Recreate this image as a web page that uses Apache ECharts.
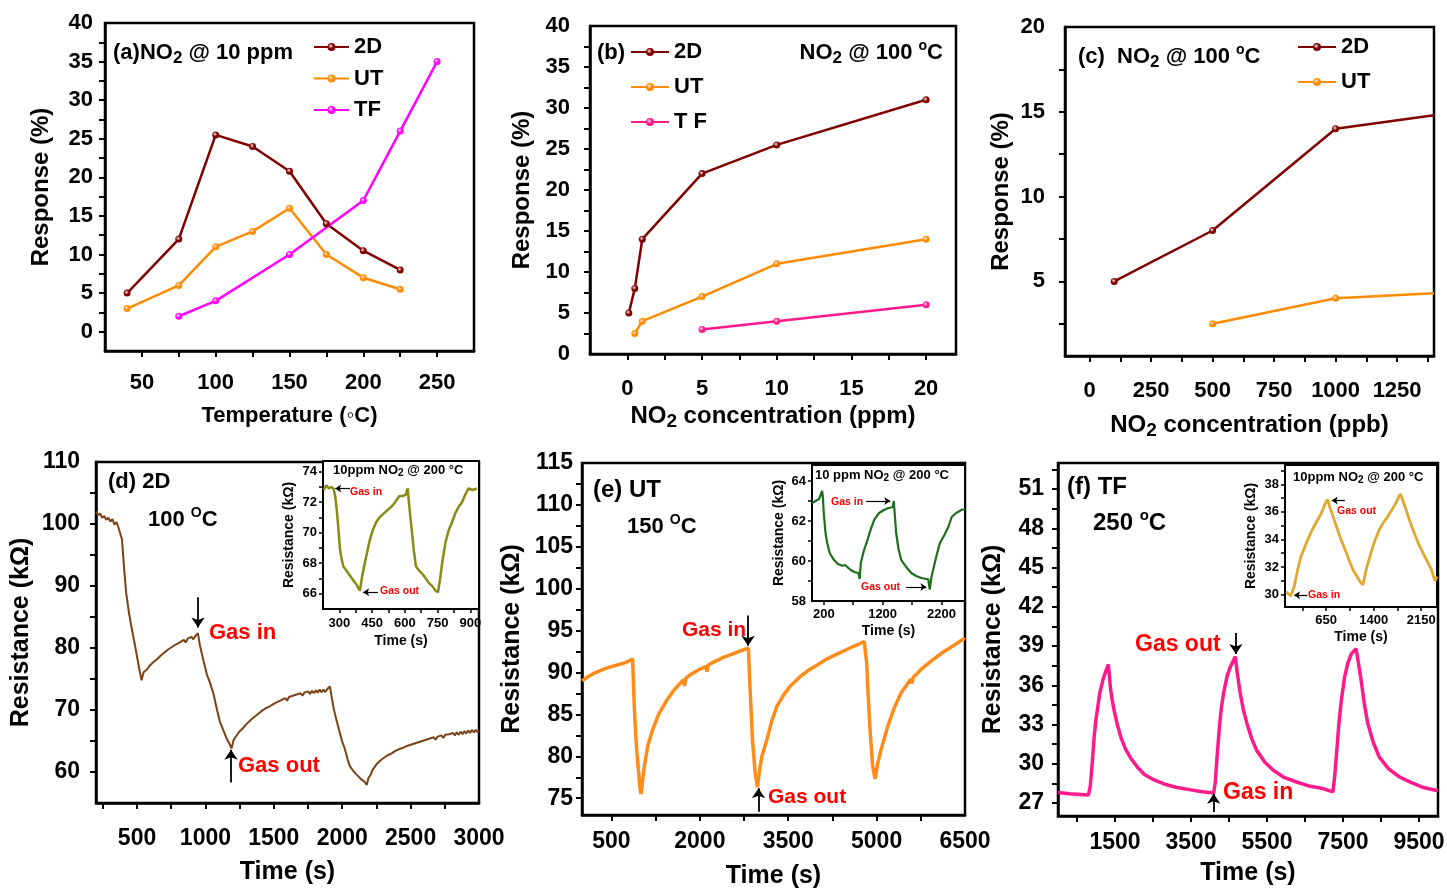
<!DOCTYPE html>
<html>
<head>
<meta charset="utf-8">
<title>NO2 response and resistance transients</title>
<style>
  html, body { margin: 0; padding: 0; background: #fff; }
  #main { width: 1447px; height: 890px; }
</style>
<script src="https://cdn.jsdelivr.net/npm/echarts@6.0.0/dist/echarts.min.js"></script>
</head>
<body>
<div id="main"></div>
<script>
// ---------- values ----------
// (a) response vs operating temperature, 10 ppm NO2
var tempA  = [40, 75, 100, 125, 150, 175, 200, 225];
var a2D    = [5, 12, 25.5, 24, 20.8, 14, 10.5, 8];
var aUT    = [3, 6, 11, 13, 16, 10, 7, 5.5];
var tempTF = [75, 100, 150, 200, 225, 250];
var aTF    = [2, 4, 10, 17, 26, 35];

// (b) response vs concentration (ppm) @ 100 C
var ppm2D = [0.1, 0.5, 1, 5, 10, 20];
var b2D   = [5, 8, 14, 22, 25.5, 31];
var ppmUT = [0.5, 1, 5, 10, 20];
var bUT   = [2.5, 4, 7, 11, 14];
var ppmTF = [5, 10, 20];
var bTF   = [3, 4, 6];

// (c) response vs concentration (ppb) @ 100 C (last value is where the line leaves the frame)
var ppb2D = [100, 500, 1000, 1400];
var c2D   = [5, 8, 14, 14.8];
var ppbUT = [500, 1000, 1400];
var cUT   = [2.5, 4, 4.3];

// (d) 2D film @ 100 C, [time s, resistance kOhm]
var dTrace = [[200,102.0],[215,101.4],[230,101.7],[245,101.0],[260,101.3],[275,100.7],[290,101.0],[305,100.4],[320,100.8],[335,99.9],[350,100.3],[362,99.6],[375,99.3],
  [390,97.5],[405,93.0],[420,89.0],[440,85.8],[460,83.3],[480,81.0],[500,78.6],[515,76.8],[533,74.8],
  [548,76.1],[562,75.8],[576,76.6],[590,77.1],[604,76.8],[618,77.7],[632,77.5],[646,78.2],[660,77.9],[674,78.8],[688,78.6],[702,79.3],[716,79.0],[730,79.8],[744,79.5],[758,80.2],[772,80.0],[786,80.6],[800,80.3],[814,80.9],[828,80.6],[842,81.3],[856,80.9],[870,81.5],[884,81.2],[898,81.8],[912,81.4],[926,81.9],[938,81.6],[945,82.4],
  [960,80.4],[985,78.0],[1010,75.8],[1035,74.3],[1060,72.5],[1085,70.0],[1106,68.1],[1130,66.8],[1155,65.4],[1175,64.6],[1191,63.8],
  [1205,65.1],[1219,65.6],[1233,65.5],[1247,66.5],[1261,66.3],[1275,67.1],[1289,67.0],[1303,67.8],[1317,67.5],[1331,68.4],[1345,68.2],[1359,68.9],[1373,68.7],[1387,69.4],[1401,69.1],[1415,69.9],[1429,69.6],[1443,70.3],[1457,70.0],[1471,70.6],[1485,70.4],[1499,71.0],[1513,70.7],[1527,71.3],[1541,71.0],[1555,71.6],[1569,71.3],[1583,71.9],[1597,71.5],[1611,72.1],[1625,71.8],[1639,72.3],[1653,72.0],[1667,72.5],[1681,72.2],[1695,72.7],[1709,72.3],[1723,72.8],[1737,72.5],[1751,73.0],[1765,72.6],[1779,73.1],[1793,72.7],[1807,73.2],[1821,72.8],[1835,73.3],[1849,72.9],[1863,73.3],[1877,72.9],[1891,73.4],[1910,73.8],
  [1925,71.8],[1940,70.0],[1960,68.2],[1983,66.3],[2000,64.9],[2021,63.6],[2040,62.0],[2057,60.9],[2080,60.2],[2100,59.7],[2118,59.3],[2140,58.8],[2160,58.5],[2179,57.9],
  [2193,59.1],[2207,59.5],[2221,60.3],[2235,60.6],[2249,61.2],[2263,61.1],[2277,61.8],[2291,61.6],[2305,62.3],[2319,62.1],[2333,62.7],[2347,62.5],[2361,63.0],[2375,62.8],[2389,63.4],[2403,63.1],[2417,63.7],[2431,63.4],[2445,63.9],[2459,63.6],[2473,64.2],[2487,63.9],[2501,64.4],[2515,64.1],[2529,64.6],[2543,64.3],[2557,64.8],[2571,64.5],[2585,65.0],[2599,64.7],[2613,65.2],[2627,64.9],[2641,65.4],[2655,65.1],[2669,65.6],[2683,65.2],[2697,65.7],[2711,65.4],[2725,65.9],[2739,65.5],[2753,66.0],[2767,65.7],[2781,66.1],[2795,65.8],[2809,66.3],[2823,65.9],[2837,66.4],[2851,66.0],[2865,66.5],[2879,66.1],[2893,66.6],[2907,66.2],[2921,66.7],[2935,66.3],[2949,66.8],[2963,66.4],[2977,66.8],[2991,66.4],[3000,66.6]];

// (e) UT film @ 150 C
var eTrace = [[0,89.0],[100,89.5],[200,89.9],[300,90.2],[400,90.5],[500,90.7],[600,90.9],[700,91.1],[800,91.4],[858,91.6],
  [872,89.0],[887,86.0],[916,82.0],[940,79.8],[961,78.1],[985,76.2],[1002,75.5],
  [1030,77.2],[1058,78.8],[1115,81.2],[1200,83.2],[1300,85.0],[1430,86.6],[1550,87.8],[1650,88.6],[1720,89.1],[1740,88.4],[1760,89.3],[1850,89.8],[2000,90.4],[2100,90.7],[2120,90.1],[2140,90.9],[2250,91.3],[2400,91.8],[2550,92.2],[2700,92.6],[2824,92.9],
  [2838,90.5],[2853,88.0],[2893,82.0],[2938,78.1],[2978,76.3],
  [3010,78.2],[3053,80.0],[3138,82.0],[3220,84.2],[3309,86.0],[3420,87.3],[3537,88.4],[3700,89.5],[3850,90.3],[3993,90.9],[4150,91.6],[4300,92.1],[4450,92.6],[4600,93.1],[4700,93.4],[4790,93.7],[4819,93.8],
  [4833,91.0],[4848,88.4],[4892,82.8],[4933,78.85],[4973,77.3],
  [5020,79.2],[5075,80.8],[5190,83.6],[5300,85.8],[5417,87.6],[5580,89.2],[5600,88.7],[5620,89.4],[5759,90.4],[5930,91.4],[6101,92.3],[6300,93.2],[6472,94.0],[6500,93.9]];

// (f) TF film @ 250 C
var fTrace = [[0,27.8],[300,27.7],[600,27.65],[800,27.6],[850,28.3],[900,30.0],[950,32.0],[1000,33.4],[1050,34.4],[1100,35.4],[1180,36.4],[1260,37.1],[1326,37.6],
  [1380,35.8],[1430,34.8],[1483,34.0],[1560,33.0],[1657,32.0],[1780,31.1],[1919,30.4],[2100,29.7],[2267,29.2],[2500,28.8],[2790,28.45],[3100,28.2],[3488,28.0],[3800,27.85],[4097,27.76],
  [4140,28.6],[4185,30.5],[4250,32.9],[4300,34.3],[4358,35.4],[4450,36.7],[4533,37.4],[4600,37.8],[4664,38.2],
  [4720,36.9],[4795,35.4],[4880,34.1],[4970,33.1],[5100,31.9],[5231,31.0],[5450,30.1],[5666,29.5],[5950,28.95],[6277,28.6],[6600,28.3],[6973,28.1],[7234,27.85],
  [7280,29.0],[7323,30.5],[7390,33.0],[7454,34.8],[7540,36.6],[7626,37.7],[7720,38.4],[7845,38.8],
  [7900,37.8],[7976,36.4],[8060,34.6],[8150,33.1],[8300,31.6],[8455,30.5],[8700,29.6],[8978,29.0],[9300,28.55],[9587,28.2],[9937,27.97],[10000,27.95]];

// insets: 10 ppm NO2 @ 200 C
var dInset = [[228,72.8],[240,73.1],[252,72.9],[262,73.0],[273,72.9],[281,72.4],[288,71.5],[296,70.2],[303,68.9],[310,68.3],[318,67.8],[333,67.5],[348,67.2],[363,66.9],[378,66.6],[394,66.2],
  [405,67.2],[415,67.9],[424,68.5],[439,69.5],[454,70.2],[469,70.7],[484,71.0],[499,71.2],[514,71.4],[530,71.6],[545,71.8],[560,72.1],[575,72.4],[590,72.4],[605,72.5],[613,72.9],
  [620,71.8],[628,70.7],[640,69.0],[651,67.8],[666,67.5],[681,67.3],[696,67.0],[711,66.7],[726,66.5],[741,66.2],[752,66.1],
  [762,67.0],[771,68.0],[787,69.4],[802,70.2],[817,70.7],[832,71.3],[847,71.7],[862,72.0],[877,72.5],[892,72.9],[910,72.8],[930,72.9]];
var eInset = [[0,62.9],[60,63.0],[120,63.1],[172,63.5],[185,63.2],[200,62.4],[230,61.4],[258,60.9],[300,60.4],[372,60.06],[440,59.85],[516,59.76],[560,59.8],[600,59.7],[658,59.55],[720,59.45],[790,59.4],[810,59.1],
  [829,59.9],[880,60.5],[944,61.07],[1000,61.6],[1058,62.07],[1140,62.4],[1229,62.56],[1300,62.65],[1373,62.7],[1390,63.0],
  [1410,62.2],[1430,61.4],[1470,60.6],[1516,60.06],[1600,59.7],[1687,59.4],[1770,59.25],[1859,59.15],[1940,59.1],[1974,59.1],[2001,58.57],
  [2030,59.2],[2059,59.56],[2110,60.2],[2173,60.9],[2250,61.3],[2317,61.7],[2373,62.2],[2450,62.4],[2545,62.56],[2600,62.6]];
var fInset = [[20,30.2],[92,29.9],[143,30.55],[200,31.8],[247,32.7],[300,33.3],[351,33.9],[400,34.4],[453,34.9],[500,35.3],[557,35.75],[600,36.2],[634,36.6],[670,36.9],
  [710,36.3],[763,35.6],[815,34.9],[867,34.2],[920,33.6],[971,33.0],[1020,32.4],[1073,31.8],[1125,31.4],[1177,31.0],[1229,30.7],
  [1255,31.2],[1281,31.8],[1330,32.6],[1384,33.45],[1435,34.1],[1488,34.7],[1550,35.2],[1616,35.6],[1680,36.1],[1746,36.6],[1800,37.1],[1824,37.3],[1850,37.4],
  [1902,36.3],[1950,35.6],[2004,34.9],[2055,34.3],[2107,33.7],[2160,33.2],[2212,32.7],[2260,32.3],[2314,31.8],[2367,31.0],[2400,31.3]];

// gas in / gas out arrows, [x1, y1, x2, y2] in data units
var dArrows  = [[946, 88.2, 946, 83.3], [1187, 58.3, 1187, 63.6]];
var eArrows  = [[2819, 96.8, 2819, 93.2], [2995, 73.4, 2995, 76.2]];
var fArrows  = [[4682, 40.0, 4682, 38.4], [4097, 26.3, 4097, 27.7]];
var diArrows = [[349, 72.9, 281, 72.9], [477, 66.1, 409, 66.1]];
var eiArrows = [[920, 63.0, 1330, 63.0], [1600, 58.7, 1944, 58.7]];
var fiArrows = [[945, 36.83, 738, 36.83], [351, 29.95, 143, 29.95]];

// tick labels and tick marks
var aXLabels = [50, 100, 150, 200, 250];
var aXTicks  = [50, 75, 100, 125, 150, 175, 200, 225, 250];
var aYLabels = [0, 5, 10, 15, 20, 25, 30, 35, 40];
var aYTicks  = [0, 2.5, 5, 7.5, 10, 12.5, 15, 17.5, 20, 22.5, 25, 27.5, 30, 32.5, 35, 37.5];
var bXLabels = [0, 5, 10, 15, 20];
var bXTicks  = [0, 2.5, 5, 7.5, 10, 12.5, 15, 17.5, 20];
var bYLabels = [0, 5, 10, 15, 20, 25, 30, 35, 40];
var bYTicks  = [2.5, 5, 7.5, 10, 12.5, 15, 17.5, 20, 22.5, 25, 27.5, 30, 32.5, 35, 37.5];
var cXLabels = [0, 250, 500, 750, 1000, 1250];
var cXTicks  = [0, 125, 250, 375, 500, 625, 750, 875, 1000, 1125, 1250, 1375];
var cYLabels = [5, 10, 15, 20];
var cYTicks  = [2.5, 5, 7.5, 10, 12.5, 15, 17.5];
var dXLabels = [500, 1000, 1500, 2000, 2500, 3000];
var dXTicks  = [250, 500, 750, 1000, 1250, 1500, 1750, 2000, 2250, 2500, 2750];
var dYLabels = [60, 70, 80, 90, 100, 110];
var dYTicks  = [60, 65, 70, 75, 80, 85, 90, 95, 100, 105];
var eXLabels = [500, 2000, 3500, 5000, 6500];
var eXTicks  = [500, 1250, 2000, 2750, 3500, 4250, 5000, 5750];
var eYLabels = [75, 80, 85, 90, 95, 100, 105, 110, 115];
var eYTicks  = [75, 77.5, 80, 82.5, 85, 87.5, 90, 92.5, 95, 97.5, 100, 102.5, 105, 107.5, 110, 112.5];
var fXLabels = [1500, 3500, 5500, 7500, 9500];
var fXTicks  = [500, 1500, 2500, 3500, 4500, 5500, 6500, 7500, 8500, 9500];
var fYLabels = [27, 30, 33, 36, 39, 42, 45, 48, 51];
var fYTicks  = [27, 28.5, 30, 31.5, 33, 34.5, 36, 37.5, 39, 40.5, 42, 43.5, 45, 46.5, 48, 49.5, 51, 52.5];
var diXLabels = [300, 450, 600, 750, 900];
var diXTicks  = [300, 375, 450, 525, 600, 675, 750, 825, 900];
var diYLabels = [66, 68, 70, 72, 74];
var diYTicks  = [66, 67, 68, 69, 70, 71, 72, 73, 74];
var eiXLabels = [200, 1200, 2200];
var eiXTicks  = [200, 700, 1200, 1700, 2200];
var eiYLabels = [58, 60, 62, 64];
var eiYTicks  = [59, 60, 61, 62, 63, 64];
var fiXLabels = [650, 1400, 2150];
var fiXTicks  = [275, 650, 1025, 1400, 1775, 2150];
var fiYLabels = [30, 32, 34, 36, 38];
var fiYTicks  = [30, 31, 32, 33, 34, 35, 36, 37, 38, 39];

// ---------- styling ----------
var FONT = '"Liberation Sans", Arial, Helvetica, sans-serif';
var RED = '#ff0000';
var C2D = '#800000', CUT = '#ff8c00', CTFa = '#ff00ff', CTF = '#ff1a8c';
var CD = '#7b4216', CE = '#ff8c1a', CF = '#ff1a8c';
var CDI = '#8a8a14', CEI = '#1e6e1e', CFI = '#e0a830';

function zip(xs, ys) {
  return xs.map(function (x, i) { return [x, ys[i]]; });
}

function subRich(size) {
  return {
    n: { fontSize: size, fontWeight: 'bold', fontFamily: FONT, color: '#000', lineHeight: size },
    s: { fontSize: Math.round(size * 0.78), fontWeight: 'bold', fontFamily: FONT, color: '#000',
         lineHeight: Math.round(size * 0.78), padding: [Math.round(size * 0.45), 0, 0, 0] }
  };
}

function grid(l, t, w, h, bw, bg) {
  return { left: l, top: t, width: w, height: h, show: true, borderColor: '#000', borderWidth: bw,
           backgroundColor: bg || 'transparent', containLabel: false, outerBoundsMode: 'none' };
}

function plain(v) { return String(v); }

function axis(gi, min, max, labels, ticks, o) {
  return {
    type: 'value', gridIndex: gi, min: min, max: max,
    name: o.name || '', nameLocation: 'middle', nameGap: o.gap,
    nameTextStyle: { fontFamily: FONT, fontWeight: 'bold', fontSize: o.nsize, color: '#000', rich: o.rich },
    axisLine: { show: true, onZero: false, lineStyle: { color: '#000', width: o.lw } },
    axisTick: { show: true, inside: false, length: o.tl, lineStyle: { color: '#000', width: o.lw - 0.5 }, customValues: ticks },
    axisLabel: { show: true, margin: o.margin, fontFamily: FONT, fontWeight: 'bold', fontSize: o.size, color: '#000',
                 customValues: labels, formatter: plain },
    splitLine: { show: false }
  };
}

function ball(c) {
  return { type: 'radial', x: 0.4, y: 0.38, r: 0.6,
           colorStops: [{ offset: 0, color: '#ffe8e0' }, { offset: 0.55, color: c }, { offset: 1, color: c }] };
}

function dots(name, idx, data, color, edge) {
  var pts = data.slice();
  if (edge) {
    var last = pts.pop();
    pts.push({ value: last, symbol: 'none' });
  }
  return { name: name, type: 'line', xAxisIndex: idx, yAxisIndex: idx, data: pts,
           symbol: 'circle', symbolSize: 7, color: color,
           lineStyle: { width: 2.5, color: color }, itemStyle: { color: ball(color) }, z: 3 };
}

function trace(name, idx, data, color, width, arrows, head) {
  return { name: name, type: 'line', xAxisIndex: idx, yAxisIndex: idx, data: data,
           symbol: 'none', color: color, lineStyle: { width: width, color: color }, z: 3,
           markLine: { silent: true, animation: false, symbol: ['none', 'arrow'], symbolSize: head || 10,
                       lineStyle: { color: '#000', width: head ? 1.2 : 1.8, type: 'solid' }, label: { show: false },
                       data: arrows.map(function (a) { return [{ coord: [a[0], a[1]] }, { coord: [a[2], a[3]] }]; }) } };
}

function label(x, y, str, size, color, align) {
  var r = {
    n: { fontSize: size, fontWeight: 'bold', fontFamily: FONT, fill: color, lineHeight: size },
    s: { fontSize: Math.round(size * 0.78), fontWeight: 'bold', fontFamily: FONT, fill: color,
         lineHeight: Math.round(size * 0.78), padding: [Math.round(size * 0.45), 0, 0, 0] },
    u: { fontSize: Math.round(size * 0.62), fontWeight: 'bold', fontFamily: FONT, fill: color,
         lineHeight: Math.round(size * 0.62), padding: [0, 0, Math.round(size * 0.6), 0] }
  };
  return { type: 'text', x: x, y: y, silent: true, z: 100,
           style: { text: str, rich: r, fontSize: size, fontWeight: 'bold', fontFamily: FONT, fill: color,
                    textAlign: align || 'left', textVerticalAlign: 'middle' } };
}

var TOP = { lw: 2.5, tl: 6, size: 22 };
var BOT = { lw: 2.5, tl: 6, size: 23 };
var INS = { lw: 2, tl: 4, size: 13 };
function st(base, extra) { return Object.assign({}, base, extra); }

var richName = subRich(24);
var LEG = { fontFamily: FONT, fontWeight: 'bold', fontSize: 22, color: '#000' };

var option = {
  animation: false,
  backgroundColor: '#fff',
  textStyle: { fontFamily: FONT },
  grid: [
    grid(105, 23, 369, 328, 2.5),
    grid(590, 26, 366, 328, 2.5),
    grid(1065, 27, 369, 329, 2.5),
    grid(96, 462, 383, 341, 2.5),
    grid(582, 463, 383, 352, 2.5),
    grid(1058, 463, 380, 353, 2.5),
    grid(323, 461, 156, 148, 2, '#fff'),
    grid(812, 465, 153, 136, 2, '#fff'),
    grid(1285, 465, 152, 142, 2, '#fff')
  ],
  xAxis: [
    axis(0, 25, 275, aXLabels, aXTicks, st(TOP, { margin: 21, name: 'Temperature (◦C)', gap: 54, nsize: 22 })),
    axis(1, -2.5, 22, bXLabels, bXTicks, st(TOP, { margin: 24, name: '{n|NO}{s|2}{n| concentration (ppm)}', gap: 50, nsize: 24, rich: richName })),
    axis(2, -100, 1400, cXLabels, cXTicks, st(TOP, { margin: 24, name: '{n|NO}{s|2}{n| concentration (ppb)}', gap: 57, nsize: 24, rich: richName })),
    axis(3, 200, 3000, dXLabels, dXTicks, st(BOT, { margin: 24, name: 'Time (s)', gap: 57, nsize: 25 })),
    axis(4, 0, 6500, eXLabels, eXTicks, st(BOT, { margin: 15, name: 'Time (s)', gap: 49, nsize: 25 })),
    axis(5, 0, 10000, fXLabels, fXTicks, st(BOT, { margin: 15, name: 'Time (s)', gap: 45, nsize: 25 })),
    axis(6, 225, 940, diXLabels, diXTicks, st(INS, { margin: 8, name: 'Time (s)', gap: 25, nsize: 14 })),
    axis(7, 0, 2600, eiXLabels, eiXTicks, st(INS, { margin: 7, name: 'Time (s)', gap: 23, nsize: 14 })),
    axis(8, 0, 2400, fiXLabels, fiXTicks, st(INS, { margin: 7, name: 'Time (s)', gap: 23, nsize: 14 }))
  ],
  yAxis: [
    axis(0, -2.5, 40, aYLabels, aYTicks, st(TOP, { margin: 12, name: 'Response (%)', gap: 52, nsize: 24 })),
    axis(1, 0, 40, bYLabels, bYTicks, st(TOP, { margin: 20, name: 'Response (%)', gap: 56, nsize: 24 })),
    axis(2, 0.6, 20, cYLabels, cYTicks, st(TOP, { margin: 20, name: 'Response (%)', gap: 52, nsize: 24 })),
    axis(3, 55, 110, dYLabels, dYTicks, st(BOT, { margin: 16, name: 'Resistance (kΩ)', gap: 62, nsize: 25 })),
    axis(4, 73, 115, eYLabels, eYTicks, st(BOT, { margin: 9, name: 'Resistance (kΩ)', gap: 57, nsize: 25 })),
    axis(5, 26, 53, fYLabels, fYTicks, st(BOT, { margin: 14, name: 'Resistance (kΩ)', gap: 52, nsize: 25 })),
    axis(6, 65, 74.7, diYLabels, diYTicks, st(INS, { margin: 6, name: 'Resistance (kΩ)', gap: 27, nsize: 14 })),
    axis(7, 58, 64.8, eiYLabels, eiYTicks, st(INS, { margin: 6, name: 'Resistance (kΩ)', gap: 26, nsize: 14 })),
    axis(8, 29.1, 39.4, fiYLabels, fiYTicks, st(INS, { margin: 6, name: 'Resistance (kΩ)', gap: 27, nsize: 14 }))
  ],
  legend: [
    { data: ['2D', 'UT', 'TF'], orient: 'vertical', left: 313, top: 36, padding: 0, itemWidth: 35, itemHeight: 10, itemGap: 9.5, textStyle: LEG, selectedMode: false },
    { data: ['2D', 'UT', 'T F'], orient: 'vertical', left: 630, top: 41, padding: 0, itemWidth: 38, itemHeight: 10, itemGap: 13, textStyle: LEG, selectedMode: false },
    { data: ['2D', 'UT'], orient: 'vertical', left: 1297, top: 36, padding: 0, itemWidth: 38, itemHeight: 10, itemGap: 13, textStyle: LEG, selectedMode: false }
  ],
  series: [
    dots('2D', 0, zip(tempA, a2D), C2D),
    dots('UT', 0, zip(tempA, aUT), CUT),
    dots('TF', 0, zip(tempTF, aTF), CTFa),
    dots('2D', 1, zip(ppm2D, b2D), C2D),
    dots('UT', 1, zip(ppmUT, bUT), CUT),
    dots('T F', 1, zip(ppmTF, bTF), CTF),
    dots('2D', 2, zip(ppb2D, c2D), C2D, true),
    dots('UT', 2, zip(ppbUT, cUT), CUT, true),
    trace('d 2D', 3, dTrace, CD, 2, dArrows),
    trace('e UT', 4, eTrace, CE, 3.5, eArrows),
    trace('f TF', 5, fTrace, CF, 3.5, fArrows),
    trace('d inset', 6, dInset, CDI, 2.5, diArrows, 6),
    trace('e inset', 7, eInset, CEI, 2.2, eiArrows, 6),
    trace('f inset', 8, fInset, CFI, 2.8, fiArrows, 6)
  ],
  graphic: [
    label(113, 53, '{n|(a)NO}{s|2}{n| @ 10 ppm}', 22, '#000'),
    label(597, 53, '{n|(b)}', 22, '#000'),
    label(943, 53, '{n|NO}{s|2}{n| @ 100 }{u|o}{n|C}', 22, '#000', 'right'),
    label(1078, 57, '{n|(c)  NO}{s|2}{n| @ 100 }{u|o}{n|C}', 22, '#000'),
    label(108, 482, '{n|(d) 2D}', 22, '#000'),
    label(148, 520, '{n|100 }{u|O}{n|C}', 22, '#000'),
    label(209, 633, '{n|Gas in}', 22, RED),
    label(238, 766, '{n|Gas out}', 22, RED),
    label(593, 490, '{n|(e) UT}', 24, '#000'),
    label(627, 527, '{n|150 }{u|O}{n|C}', 22, '#000'),
    label(682, 630, '{n|Gas in}', 21, RED),
    label(768, 797, '{n|Gas out}', 21, RED),
    label(1067, 487, '{n|(f) TF}', 24, '#000'),
    label(1093, 523, '{n|250 }{u|o}{n|C}', 24, '#000'),
    label(1135, 645, '{n|Gas out}', 23, RED),
    label(1223, 793, '{n|Gas in}', 23, RED),
    label(333, 470, '{n|10ppm NO}{s|2}{n| @ 200 °C}', 13, '#000'),
    label(815, 475, '{n|10 ppm NO}{s|2}{n| @ 200 °C}', 13, '#000'),
    label(1293, 477, '{n|10ppm NO}{s|2}{n| @ 200 °C}', 13, '#000'),
    label(350, 492, '{n|Gas in}', 10.5, RED),
    label(380, 591, '{n|Gas out}', 10.5, RED),
    label(831, 502, '{n|Gas in}', 10.5, RED),
    label(861, 587, '{n|Gas out}', 10.5, RED),
    label(1337, 511, '{n|Gas out}', 10.5, RED),
    label(1308, 595, '{n|Gas in}', 10.5, RED)
  ]
};

var chart = echarts.init(document.getElementById('main'), null, { renderer: 'canvas' });
chart.setOption(option);
</script>
</body>
</html>
